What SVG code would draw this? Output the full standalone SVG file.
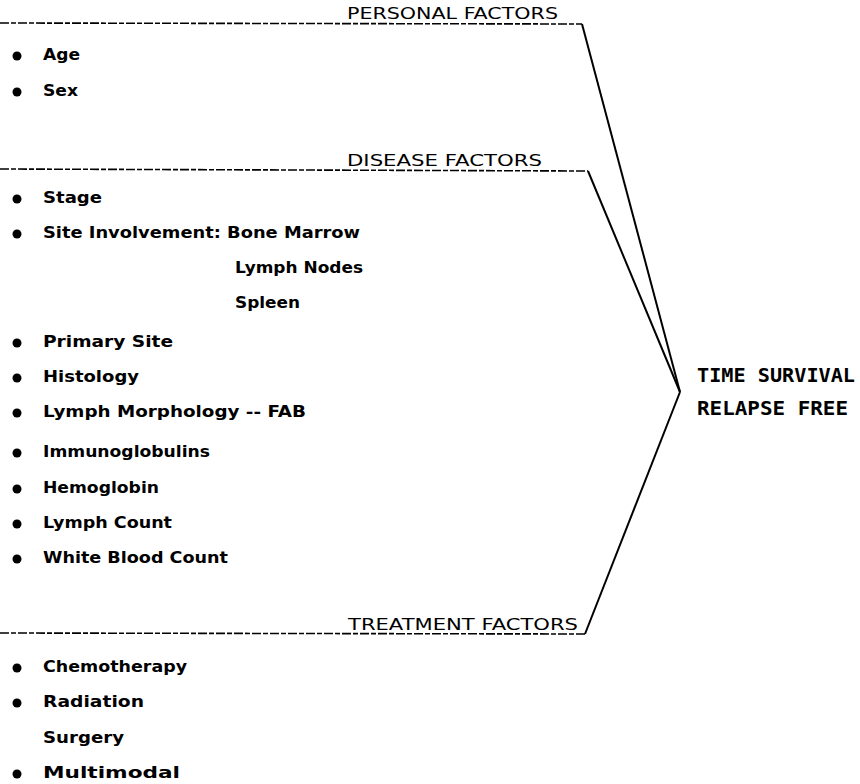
<svg xmlns="http://www.w3.org/2000/svg" width="860" height="784" viewBox="0 0 860 784">
<style>
.hdr{font-family:"DejaVu Sans","Liberation Sans",sans-serif;font-size:15.5px;fill:#000}
.out{font-family:"DejaVu Sans Mono","Liberation Mono",monospace;font-size:19px;fill:#000;font-weight:bold}
.item{font-family:"DejaVu Sans","Liberation Sans",sans-serif;font-size:16px;font-weight:bold;fill:#000}
.rule{stroke:#000;stroke-width:1.6;fill:none;stroke-dasharray:9 2 5 2}
.conn{stroke:#000;stroke-width:2;fill:none}
.dot{fill:#000}
</style>
<rect width="860" height="784" fill="#fff"/>

<g id="connectors">
  <path class="conn" d="M582,24 L680,392"/>
  <path class="conn" d="M588,171 L680,392"/>
  <path class="conn" d="M585,634 L680,392"/>
</g>

<g id="personal">
  <path class="rule" d="M0,23 L582,24"/>
  <text class="hdr" x="347" y="19" textLength="211" lengthAdjust="spacingAndGlyphs">PERSONAL FACTORS</text>
  <circle class="dot" cx="17" cy="56" r="4.5"/>
  <text class="item" x="43" y="60" textLength="37" lengthAdjust="spacingAndGlyphs">Age</text>
  <circle class="dot" cx="17" cy="92" r="4.5"/>
  <text class="item" x="43" y="96" textLength="35" lengthAdjust="spacingAndGlyphs">Sex</text>
</g>

<g id="disease">
  <path class="rule" d="M0,169 L588,171"/>
  <text class="hdr" x="347" y="166" textLength="195" lengthAdjust="spacingAndGlyphs">DISEASE FACTORS</text>
  <circle class="dot" cx="17" cy="199" r="4.5"/>
  <text class="item" x="43" y="203" textLength="59" lengthAdjust="spacingAndGlyphs">Stage</text>
  <circle class="dot" cx="17" cy="234" r="4.5"/>
  <text class="item" x="43" y="238" textLength="317" lengthAdjust="spacingAndGlyphs">Site Involvement: Bone Marrow</text>
  <text class="item" x="235" y="273" textLength="128" lengthAdjust="spacingAndGlyphs">Lymph Nodes</text>
  <text class="item" x="235" y="308" textLength="65" lengthAdjust="spacingAndGlyphs">Spleen</text>
  <circle class="dot" cx="17" cy="343" r="4.5"/>
  <text class="item" x="43" y="347" textLength="130" lengthAdjust="spacingAndGlyphs">Primary Site</text>
  <circle class="dot" cx="17" cy="378" r="4.5"/>
  <text class="item" x="43" y="382" textLength="96" lengthAdjust="spacingAndGlyphs">Histology</text>
  <circle class="dot" cx="17" cy="413" r="4.5"/>
  <text class="item" x="43" y="417" textLength="263" lengthAdjust="spacingAndGlyphs">Lymph Morphology -- FAB</text>
  <circle class="dot" cx="17" cy="453" r="4.5"/>
  <text class="item" x="43" y="457" textLength="167" lengthAdjust="spacingAndGlyphs">Immunoglobulins</text>
  <circle class="dot" cx="17" cy="489" r="4.5"/>
  <text class="item" x="43" y="493" textLength="116" lengthAdjust="spacingAndGlyphs">Hemoglobin</text>
  <circle class="dot" cx="17" cy="524" r="4.5"/>
  <text class="item" x="43" y="528" textLength="129" lengthAdjust="spacingAndGlyphs">Lymph Count</text>
  <circle class="dot" cx="17" cy="559" r="4.5"/>
  <text class="item" x="43" y="563" textLength="185" lengthAdjust="spacingAndGlyphs">White Blood Count</text>
</g>

<g id="treatment">
  <path class="rule" d="M0,633 L585,634"/>
  <text class="hdr" x="348" y="630" textLength="230" lengthAdjust="spacingAndGlyphs">TREATMENT FACTORS</text>
  <circle class="dot" cx="17" cy="668" r="4.5"/>
  <text class="item" x="43" y="672" textLength="144" lengthAdjust="spacingAndGlyphs">Chemotherapy</text>
  <circle class="dot" cx="17" cy="703" r="4.5"/>
  <text class="item" x="43" y="707" textLength="101" lengthAdjust="spacingAndGlyphs">Radiation</text>
  <text class="item" x="43" y="743" textLength="81" lengthAdjust="spacingAndGlyphs">Surgery</text>
  <circle class="dot" cx="17" cy="774" r="4.5"/>
  <text class="item" x="43" y="778" textLength="137" lengthAdjust="spacingAndGlyphs">Multimodal</text>
</g>

<g id="outcome">
  <text class="out" x="697" y="382" textLength="158" lengthAdjust="spacingAndGlyphs">TIME SURVIVAL</text>
  <text class="out" x="697" y="415" textLength="151" lengthAdjust="spacingAndGlyphs">RELAPSE FREE</text>
</g>
</svg>
